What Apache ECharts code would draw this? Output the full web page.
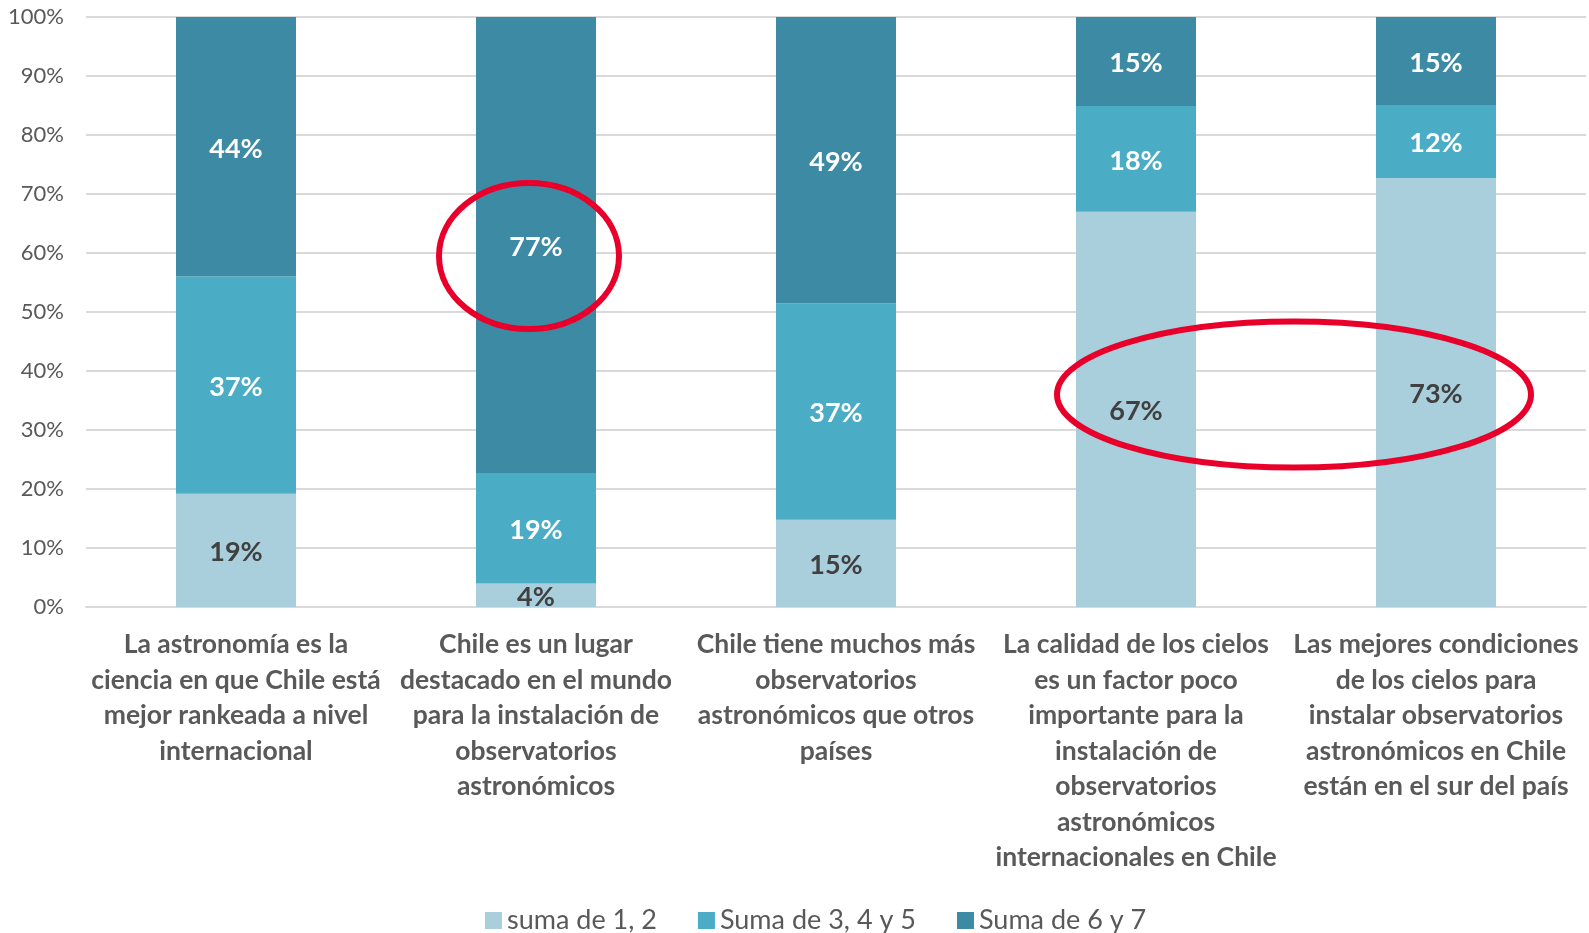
<!DOCTYPE html>
<html>
<head>
<meta charset="utf-8">
<script src="https://cdn.jsdelivr.net/npm/echarts@6/dist/echarts.min.js"></script>
<style>
  html, body { margin: 0; padding: 0; background: #fff; }
  #main { width: 1589px; height: 933px; }
</style>
</head>
<body>
<div id="main"></div>
<script>
// categorias (con saltos de linea como en el original)
var categories = [
  'La astronomía es la\nciencia en que Chile está\nmejor rankeada a nivel\ninternacional',
  'Chile es un lugar\ndestacado en el mundo\npara la instalación de\nobservatorios\nastronómicos',
  'Chile tiene muchos más\nobservatorios\nastronómicos que otros\npaíses',
  'La calidad de los cielos\nes un factor poco\nimportante para la\ninstalación de\nobservatorios\nastronómicos\ninternacionales en Chile',
  'Las mejores condiciones\nde los cielos para\ninstalar observatorios\nastronómicos en Chile\nestán en el sur del país'
];
var seriesNames = ['suma de 1, 2', 'Suma de 3, 4 y 5', 'Suma de 6 y 7'];
var suma12 = [19.2, 4.0, 14.8, 67.0, 72.7];
var suma345 = [36.8, 18.7, 36.7, 17.9, 12.4];
var suma67 = [44.0, 77.3, 48.5, 15.1, 14.9];
var colors = ['#A9CEDC', '#4BACC6', '#3C8AA3'];

var labelFont = 'Lato, "Open Sans", sans-serif';

function seg(name, data, color, textColor) {
  return {
    name: name,
    type: 'bar',
    stack: 'total',
    barWidth: '40%',
    data: data,
    itemStyle: { color: color },
    label: {
      show: true,
      position: 'inside',
      offset: [0, 2],
      color: textColor,
      fontFamily: labelFont,
      fontWeight: 'bold',
      fontSize: 27,
      formatter: function (p) { return Math.round(p.value) + '%'; }
    }
  };
}

var chart = echarts.init(document.getElementById('main'));
chart.setOption({
  animation: false,
  color: colors,
  grid: { left: 86, right: 3, top: 17, bottom: 326 },
  xAxis: {
    type: 'category',
    data: categories,
    axisLine: { lineStyle: { color: '#D9D9D9', width: 2 } },
    axisTick: { show: false },
    axisLabel: {
      interval: 0,
      margin: 20,
      color: '#595959',
      fontFamily: labelFont,
      fontWeight: 'bold',
      fontSize: 26.5,
      lineHeight: 35.5
    }
  },
  yAxis: {
    type: 'value',
    min: 0,
    max: 100,
    interval: 10,
    axisLine: { show: false },
    axisTick: { show: false },
    splitLine: { lineStyle: { color: '#D9D9D9', width: 2 } },
    axisLabel: {
      margin: 22,
      color: '#595959',
      fontFamily: labelFont,
      fontSize: 22,
      formatter: '{value}%'
    }
  },
  legend: {
    bottom: -6,
    left: 480,
    itemWidth: 17,
    itemHeight: 17,
    itemGap: 41,
    icon: 'rect',
    textStyle: { color: '#595959', fontFamily: labelFont, fontSize: 27 },
    data: seriesNames
  },
  series: [
    seg(seriesNames[0], suma12, colors[0], '#404040'),
    seg(seriesNames[1], suma345, colors[1], '#FFFFFF'),
    seg(seriesNames[2], suma67, colors[2], '#FFFFFF')
  ]
});

// anotaciones: elipses rojas
var p1 = chart.convertToPixel({ gridIndex: 0 }, [1, 59.5]);
var pa = chart.convertToPixel({ gridIndex: 0 }, [3, 36]);
var pb = chart.convertToPixel({ gridIndex: 0 }, [4, 36]);
var ringStyle = { fill: 'none', stroke: '#E8002B', lineWidth: 6 };
chart.setOption({
  graphic: [
    { type: 'ellipse', shape: { cx: p1[0] - 7, cy: p1[1], rx: 90, ry: 73 }, style: ringStyle, z: 100 },
    { type: 'ellipse', shape: { cx: (pa[0] + pb[0]) / 2 + 8, cy: pa[1], rx: 237, ry: 73 }, style: ringStyle, z: 100 }
  ]
});
</script>
</body>
</html>
